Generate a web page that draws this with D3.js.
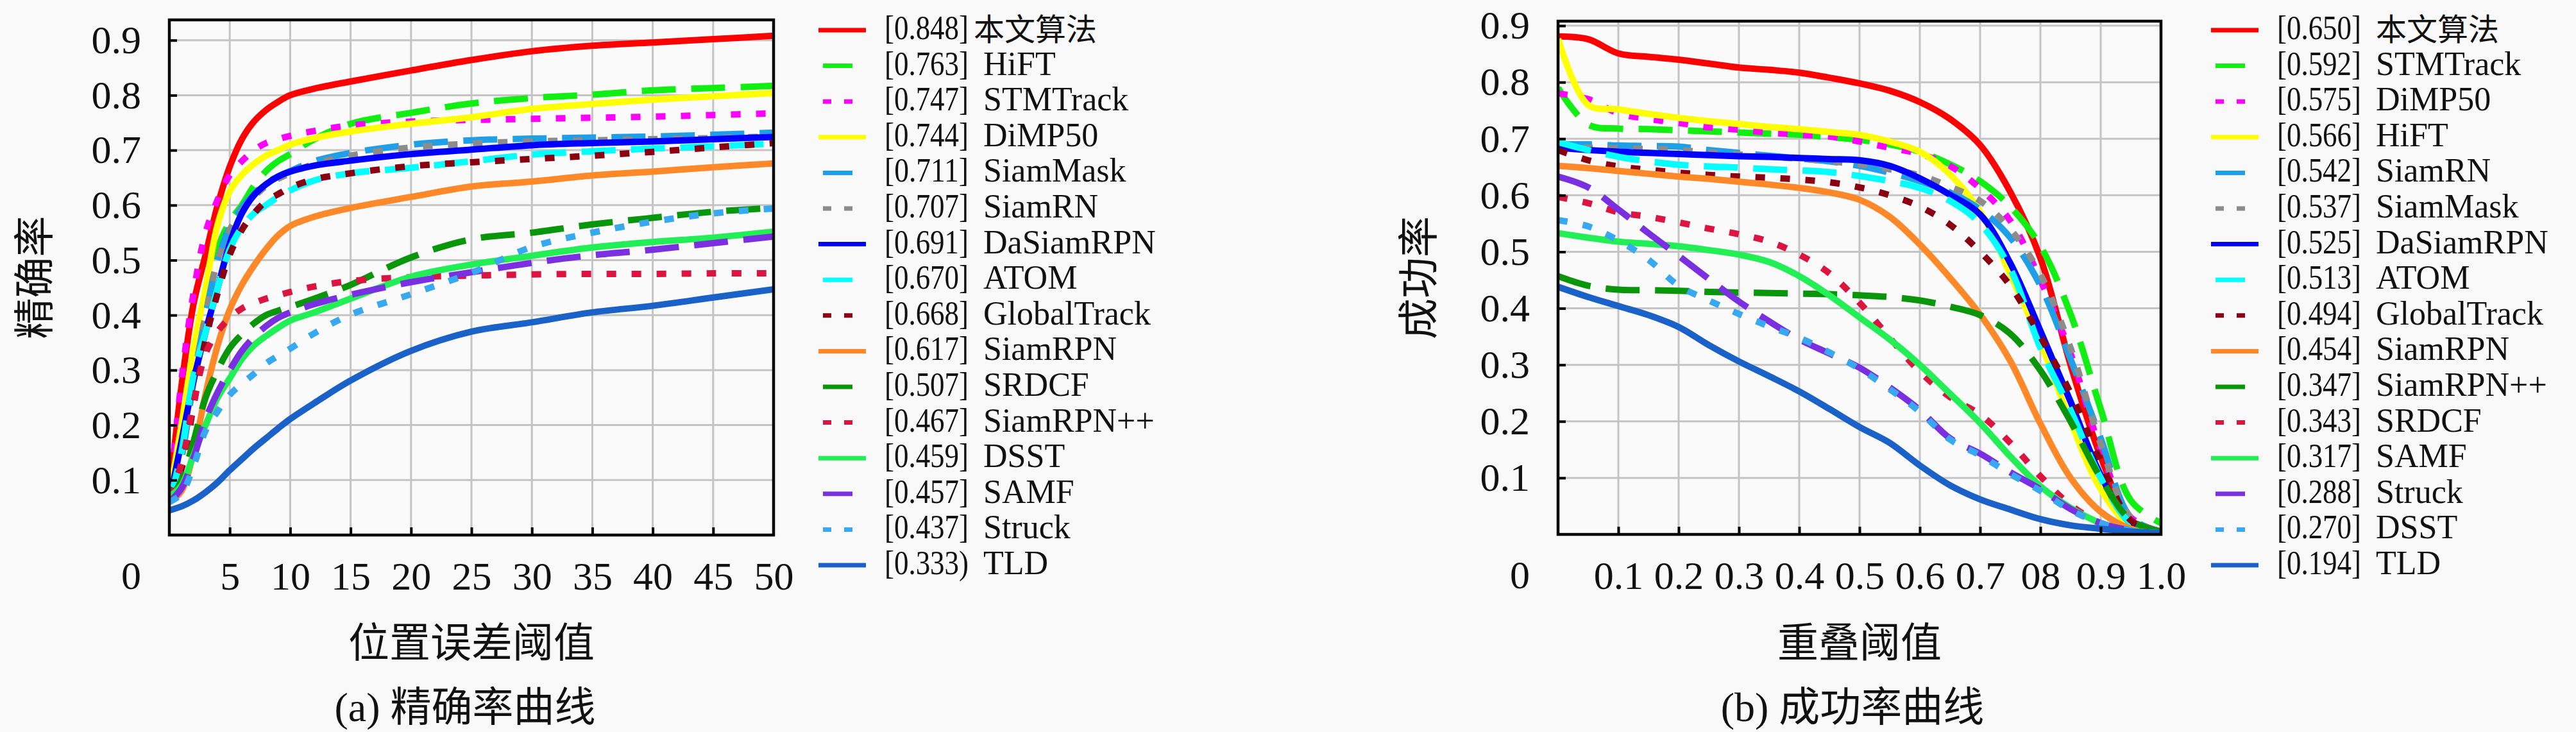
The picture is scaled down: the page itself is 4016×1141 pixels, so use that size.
<!DOCTYPE html>
<html><head><meta charset="utf-8">
<script src="https://cdn.jsdelivr.net/npm/d3@7/dist/d3.min.js"></script>
<style>
html,body{margin:0;padding:0;background:#f9f9f9;}
svg{display:block;}
</style></head>
<body>
<svg id="chart" width="4016" height="1141"></svg>
<script>
// ---------------- DATA ----------------
const precX = [0,1,2,3,4,5,6,7,8,9,10,12,15,20,25,30,35,40,45,50];
const precNames = ["本文算法","HiFT","STMTrack","DiMP50","SiamMask","SiamRN","DaSiamRPN","ATOM","GlobalTrack","SiamRPN","SRDCF","SiamRPN++","DSST","SAMF","Struck","TLD"];
const precScores = ["[0.848]","[0.763]","[0.747]","[0.744]","[0.711]","[0.707]","[0.691]","[0.670]","[0.668]","[0.617]","[0.507]","[0.467]","[0.459]","[0.457]","[0.437]","[0.333)"];
const precRed        = [0.07,0.27,0.42,0.51,0.60,0.67,0.72,0.752,0.773,0.788,0.80,0.812,0.825,0.845,0.864,0.88,0.89,0.896,0.902,0.908];
const precHiFT       = [0.06,0.17,0.30,0.42,0.52,0.57,0.60,0.635,0.662,0.68,0.693,0.72,0.748,0.768,0.785,0.795,0.801,0.809,0.813,0.817];
const precSTMTrack   = [0.06,0.28,0.44,0.55,0.61,0.655,0.68,0.70,0.713,0.72,0.726,0.735,0.745,0.752,0.755,0.757,0.759,0.761,0.764,0.767];
const precDiMP50     = [0.07,0.20,0.34,0.45,0.565,0.625,0.655,0.675,0.69,0.70,0.71,0.722,0.734,0.748,0.76,0.775,0.784,0.792,0.798,0.804];
const precSiamMask   = [0.06,0.14,0.28,0.40,0.50,0.56,0.595,0.62,0.64,0.652,0.662,0.68,0.695,0.71,0.718,0.721,0.723,0.725,0.728,0.732];
const precSiamRN     = [0.06,0.14,0.28,0.40,0.50,0.555,0.59,0.615,0.635,0.648,0.658,0.675,0.69,0.705,0.712,0.716,0.718,0.72,0.722,0.725];
const precDaSiamRPN  = [0.06,0.17,0.28,0.37,0.45,0.53,0.585,0.618,0.638,0.652,0.661,0.672,0.681,0.693,0.701,0.709,0.713,0.716,0.72,0.724];
const precATOM       = [0.06,0.15,0.29,0.37,0.45,0.52,0.56,0.585,0.60,0.615,0.627,0.645,0.658,0.668,0.68,0.692,0.698,0.703,0.707,0.712];
const precGlobal     = [0.07,0.12,0.235,0.355,0.44,0.51,0.555,0.585,0.607,0.62,0.632,0.647,0.658,0.671,0.678,0.684,0.69,0.697,0.705,0.713];
const precSiamRPN    = [0.06,0.08,0.15,0.257,0.345,0.41,0.455,0.49,0.52,0.545,0.562,0.579,0.595,0.615,0.634,0.643,0.654,0.661,0.669,0.676];
const precSRDCF      = [0.06,0.10,0.17,0.25,0.30,0.34,0.365,0.385,0.40,0.408,0.415,0.43,0.455,0.505,0.538,0.55,0.565,0.577,0.588,0.595];
const precSiamRPNpp  = [0.07,0.13,0.24,0.33,0.37,0.395,0.412,0.422,0.43,0.436,0.442,0.452,0.462,0.469,0.472,0.474,0.475,0.475,0.476,0.476];
const precDSST       = [0.07,0.09,0.145,0.20,0.25,0.285,0.32,0.345,0.362,0.377,0.39,0.405,0.43,0.47,0.492,0.508,0.523,0.533,0.541,0.552];
const precSAMF       = [0.06,0.085,0.14,0.21,0.26,0.30,0.335,0.36,0.38,0.395,0.405,0.42,0.437,0.46,0.478,0.495,0.509,0.519,0.531,0.543];
const precStruck     = [0.06,0.075,0.125,0.19,0.225,0.255,0.275,0.293,0.312,0.326,0.339,0.367,0.401,0.438,0.477,0.524,0.55,0.57,0.585,0.594];
const precTLD        = [0.045,0.052,0.063,0.078,0.096,0.118,0.138,0.158,0.176,0.194,0.211,0.24,0.281,0.335,0.37,0.387,0.405,0.417,0.432,0.447];
const precSeries = [precRed,precHiFT,precSTMTrack,precDiMP50,precSiamMask,precSiamRN,precDaSiamRPN,precATOM,precGlobal,precSiamRPN,precSRDCF,precSiamRPNpp,precDSST,precSAMF,precStruck,precTLD];

const succX = [0,0.05,0.1,0.15,0.2,0.25,0.3,0.35,0.4,0.45,0.5,0.55,0.6,0.65,0.7,0.75,0.8,0.85,0.9,0.95,1.0];
const succNames = ["本文算法","STMTrack","DiMP50","HiFT","SiamRN","SiamMask","DaSiamRPN","ATOM","GlobalTrack","SiamRPN","SiamRPN++","SRDCF","SAMF","Struck","DSST","TLD"];
const succScores = ["[0.650]","[0.592]","[0.575]","[0.566]","[0.542]","[0.537]","[0.525]","[0.513]","[0.494]","[0.454]","[0.347]","[0.343]","[0.317]","[0.288]","[0.270]","[0.194]"];
const succRed       = [0.881,0.876,0.851,0.845,0.84,0.833,0.826,0.822,0.817,0.808,0.798,0.785,0.765,0.735,0.689,0.606,0.489,0.30,0.138,0.025,0.005];
const succSTMTrack  = [0.79,0.725,0.718,0.717,0.715,0.713,0.711,0.709,0.707,0.703,0.698,0.69,0.677,0.655,0.625,0.58,0.51,0.39,0.222,0.06,0.02];
const succDiMP50    = [0.78,0.77,0.745,0.735,0.728,0.72,0.716,0.711,0.707,0.704,0.695,0.684,0.673,0.652,0.612,0.555,0.45,0.32,0.15,0.03,0.005];
const succHiFT      = [0.877,0.76,0.752,0.744,0.737,0.731,0.726,0.721,0.717,0.712,0.707,0.695,0.677,0.637,0.571,0.46,0.34,0.2,0.08,0.015,0.003];
const succSiamRN    = [0.69,0.69,0.688,0.687,0.686,0.68,0.675,0.67,0.665,0.66,0.652,0.64,0.625,0.605,0.575,0.525,0.44,0.31,0.17,0.03,0.005];
const succSiamMask  = [0.685,0.684,0.683,0.682,0.68,0.676,0.672,0.668,0.665,0.66,0.655,0.646,0.635,0.615,0.59,0.54,0.46,0.33,0.16,0.03,0.005];
const succDaSiamRPN = [0.684,0.68,0.677,0.675,0.673,0.671,0.669,0.668,0.666,0.664,0.662,0.652,0.63,0.601,0.566,0.48,0.36,0.235,0.105,0.02,0.003];
const succATOM      = [0.694,0.68,0.668,0.66,0.654,0.651,0.649,0.646,0.644,0.641,0.634,0.625,0.613,0.59,0.55,0.47,0.33,0.22,0.1,0.02,0.003];
const succGlobal    = [0.68,0.662,0.651,0.645,0.64,0.636,0.633,0.631,0.628,0.623,0.614,0.6,0.58,0.548,0.5,0.44,0.35,0.25,0.13,0.025,0.003];
const succSiamRPN   = [0.652,0.648,0.643,0.638,0.633,0.629,0.624,0.619,0.613,0.605,0.592,0.562,0.513,0.454,0.389,0.307,0.196,0.1,0.04,0.01,0.002];
const succSiamRPNpp = [0.457,0.44,0.433,0.432,0.431,0.429,0.428,0.427,0.426,0.425,0.423,0.42,0.414,0.403,0.388,0.355,0.29,0.2,0.1,0.025,0.005];
const succSRDCF     = [0.597,0.586,0.57,0.562,0.552,0.541,0.531,0.518,0.495,0.462,0.41,0.348,0.288,0.243,0.212,0.162,0.103,0.052,0.02,0.006,0.002];
const succSAMF      = [0.533,0.525,0.518,0.514,0.51,0.503,0.495,0.482,0.457,0.423,0.384,0.345,0.3,0.249,0.197,0.138,0.085,0.047,0.02,0.007,0.002];
const succStruck    = [0.633,0.614,0.575,0.533,0.493,0.452,0.412,0.377,0.345,0.32,0.295,0.26,0.22,0.17,0.143,0.11,0.08,0.045,0.02,0.007,0.002];
const succDSST      = [0.556,0.545,0.52,0.486,0.44,0.414,0.39,0.368,0.348,0.322,0.293,0.257,0.217,0.168,0.14,0.107,0.077,0.043,0.02,0.007,0.002];
const succTLD       = [0.438,0.42,0.404,0.388,0.367,0.335,0.306,0.28,0.253,0.222,0.19,0.162,0.122,0.087,0.062,0.044,0.027,0.016,0.01,0.005,0.002];
const succSeries = [succRed,succSTMTrack,succDiMP50,succHiFT,succSiamRN,succSiamMask,succDaSiamRPN,succATOM,succGlobal,succSiamRPN,succSiamRPNpp,succSRDCF,succSAMF,succStruck,succDSST,succTLD];

const yTicks = [0.1,0.2,0.3,0.4,0.5,0.6,0.7,0.8,0.9];
const yTickLabels = ["0.1","0.2","0.3","0.4","0.5","0.6","0.7","0.8","0.9"];
const precXTicks = [5,10,15,20,25,30,35,40,45,50];
const precXTickLabels = ["5","10","15","20","25","30","35","40","45","50"];
const succXTicks = [0.1,0.2,0.3,0.4,0.5,0.6,0.7,0.8,0.9,1.0];
const succXTickLabels = ["0.1","0.2","0.3","0.4","0.5","0.6","0.7","08","0.9","1.0"];

// ---------------- STYLE ----------------
const lineColors = ["#ff0000","#11ee11","#ff00ff","#ffff00","#1f9fe8","#8c8c8c","#0000ff","#00ffff","#8b0010","#ff8828","#0a960a","#dc1440","#22ee55","#7a30e0","#38a8f0","#1a62c8"];
const lineKinds  = ["solid","dashed","dotted","solid","dashed","dotted","solid","dashed","dotted","solid","dashed","dotted","solid","dashed","dotted","solid"];
const FONT = "'Liberation Serif','Noto Sans CJK SC',serif";
const CJK = "'Noto Sans CJK SC',sans-serif";

const svg = d3.select("#chart");
svg.append("rect").attr("width",4016).attr("height",1141).attr("fill","#f9f9f9");

function panel(cfg){
  const g = svg.append("g");
  const x = d3.scaleLinear().domain(cfg.xDomain).range([cfg.x0,cfg.x1]);
  const y = d3.scaleLinear().domain(cfg.yDomain).range([cfg.y1,cfg.y0]);
  const clipId = "clip"+cfg.id;
  svg.append("clipPath").attr("id",clipId).append("rect")
    .attr("x",cfg.x0).attr("y",cfg.y0).attr("width",cfg.x1-cfg.x0).attr("height",cfg.y1-cfg.y0);
  g.append("rect").attr("x",cfg.x0).attr("y",cfg.y0).attr("width",cfg.x1-cfg.x0).attr("height",cfg.y1-cfg.y0).attr("fill","#fafafa");
  // grid
  const grid = g.append("g").attr("stroke","#c4c4c4").attr("stroke-width",3);
  yTicks.forEach(v=>grid.append("line").attr("x1",cfg.x0).attr("x2",cfg.x1).attr("y1",y(v)).attr("y2",y(v)));
  cfg.xTicks.filter(v=>v<cfg.xDomain[1]).forEach(v=>grid.append("line").attr("y1",cfg.y0).attr("y2",cfg.y1).attr("x1",x(v)).attr("x2",x(v)));
  // curves
  const line = d3.line().x((d,i)=>x(cfg.xs[i])).y(d=>y(Math.max(0,d))).curve(d3.curveCatmullRom.alpha(0.5));
  const cg = g.append("g").attr("clip-path",`url(#${clipId})`);
  cfg.series.forEach((s,i)=>{
    const p = cg.append("path").datum(s).attr("d",line).attr("fill","none")
      .attr("stroke",lineColors[i]).attr("stroke-width",10).attr("stroke-linejoin","round");
    if(lineKinds[i]==="dashed") p.attr("stroke-dasharray","53,24");
    if(lineKinds[i]==="dotted") p.attr("stroke-dasharray","15,24");
  });
  // axes
  const ax = d3.axisBottom(x).tickValues(cfg.xTicks).tickFormat((d,i)=>cfg.xTickLabels[i]).tickSize(-12).tickPadding(41);
  const axg = g.append("g").attr("transform",`translate(0,${cfg.y1})`).call(ax);
  const ay = d3.axisLeft(y).tickValues(yTicks).tickFormat((d,i)=>yTickLabels[i]).tickSize(-12).tickPadding(44);
  const ayg = g.append("g").attr("transform",`translate(${cfg.x0},0)`).call(ay);
  [axg,ayg].forEach(a=>{
    a.select(".domain").remove();
    a.selectAll(".tick line").attr("stroke","#000").attr("stroke-width",4);
    a.selectAll(".tick text").attr("font-family",FONT).attr("font-size",62).attr("fill","#111");
  });
  axg.selectAll(".tick").filter(d=>d>=cfg.xDomain[1]).select("line").remove();
  // border
  g.append("rect").attr("x",cfg.x0).attr("y",cfg.y0).attr("width",cfg.x1-cfg.x0).attr("height",cfg.y1-cfg.y0)
    .attr("fill","none").attr("stroke","#000").attr("stroke-width",4.5);
  // origin label
  g.append("text").attr("x",cfg.x0-44).attr("y",cfg.y1+84).attr("text-anchor","end")
    .attr("font-family",FONT).attr("font-size",62).attr("fill","#111").text("0");
  // titles
  g.append("text").attr("x",(cfg.x0+cfg.x1)/2).attr("y",1024).attr("text-anchor","middle")
    .attr("font-family",CJK).attr("font-size",64).attr("fill","#111").text(cfg.xTitle);
  g.append("text").attr("transform",`translate(${cfg.yTitleX},${(cfg.y0+cfg.y1)/2}) rotate(-90)`)
    .attr("text-anchor","middle").attr("dy","0.35em")
    .attr("font-family",CJK).attr("font-size",64).attr("fill","#111").text(cfg.yTitle);
  const cap = g.append("text").attr("x",cfg.capX).attr("y",1124).attr("text-anchor","middle")
    .attr("font-family",FONT).attr("font-size",64).attr("fill","#111");
  cap.append("tspan").text(cfg.capLatin);
  cap.append("tspan").attr("font-family",CJK).text(cfg.capCJK);
  // legend
  const lg = g.append("g");
  cfg.names.forEach((n,i)=>{
    const ly = 47 + i*55.6;
    const k = lineKinds[i];
    const l = lg.append("line").attr("y1",ly).attr("y2",ly).attr("stroke",lineColors[i]).attr("stroke-width",7);
    if(k==="solid") l.attr("x1",cfg.legX).attr("x2",cfg.legX+74);
    else if(k==="dashed") l.attr("x1",cfg.legX+7).attr("x2",cfg.legX+53);
    else l.attr("x1",cfg.legX+7).attr("x2",cfg.legX+53).attr("stroke-dasharray","13,20");
    lg.append("text").attr("x",cfg.legTextX).attr("y",ly+14)
      .attr("font-family",FONT).attr("font-size",52).attr("fill","#111")
      .attr("textLength",131).attr("lengthAdjust","spacingAndGlyphs").text(cfg.scores[i]);
    const isCJK = /[\u4e00-\u9fff]/.test(n);
    lg.append("text").attr("x",(isCJK && cfg.cjkTight)? cfg.legTextX+139 : cfg.legNameX).attr("y",ly+(isCJK?16:14))
      .attr("font-family",isCJK?CJK:FONT).attr("font-size",isCJK?48:52).attr("fill","#111").text(n);
  });
}

panel({id:"a", xDomain:[0,50], yDomain:[0,0.937], x0:264, x1:1206, y0:31, y1:834,
  xs:precX, series:precSeries, xTicks:precXTicks, xTickLabels:precXTickLabels,
  xTitle:"位置误差阈值", yTitle:"精确率", yTitleX:54, capX:725, capLatin:"(a) ", capCJK:"精确率曲线",
  names:precNames, scores:precScores, legX:1276, legTextX:1379, legNameX:1533, cjkTight:true});

panel({id:"b", xDomain:[0,1], yDomain:[0,0.908], x0:2429, x1:3369, y0:33, y1:833,
  xs:succX, series:succSeries, xTicks:succXTicks, xTickLabels:succXTickLabels,
  xTitle:"重叠阈值", yTitle:"成功率", yTitleX:2212, capX:2888, capLatin:"(b) ", capCJK:"成功率曲线",
  names:succNames, scores:succScores, legX:3447, legTextX:3550, legNameX:3704, cjkTight:false});
</script>
</body></html>
